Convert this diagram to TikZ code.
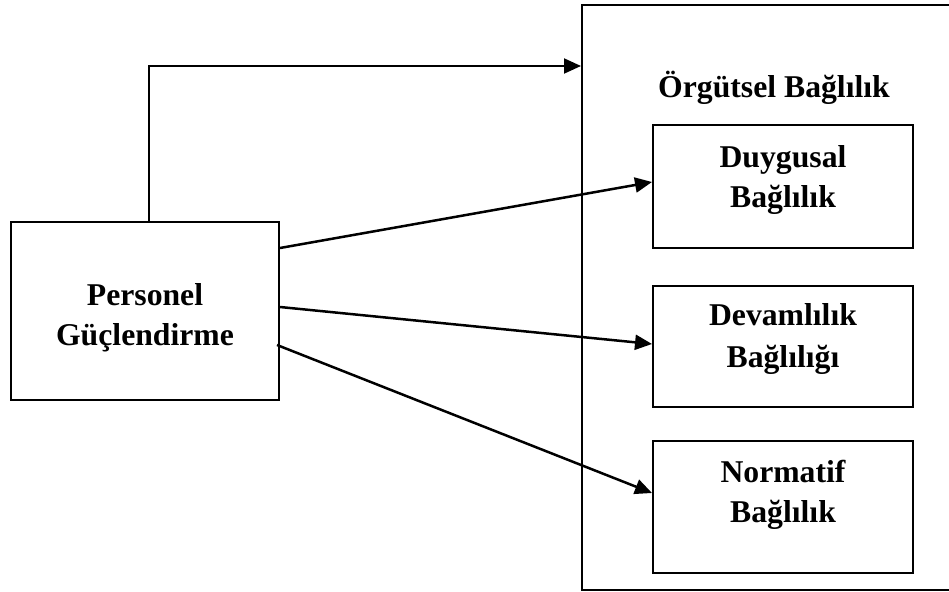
\documentclass[tikz,border=0pt]{standalone}
\usepackage{fontspec}
\setmainfont{Liberation Serif}
\usetikzlibrary{arrows.meta,calc}
\begin{document}
\begin{tikzpicture}[x=1pt,y=-1pt,
  box/.style={draw, line width=2pt, inner sep=0pt},
  lbl/.style={font=\bfseries\fontsize{31.7}{40}\selectfont, align=center, anchor=base, inner sep=0pt},
  conn/.style={line width=2.5pt, -{Triangle[length=17pt,width=15pt]}}]
\useasboundingbox (0,0) rectangle (949,591);
% outer frame, running past the right edge of the page
\begin{scope}
  \clip (0,0) rectangle (949,591);
  \node[box, minimum width=380pt, minimum height=585pt] (big) at (772,297.5) {};
\end{scope}
% boxes
\node[box, minimum width=268pt, minimum height=178pt] (pg) at (145,311) {};
\node[box, minimum width=260pt, minimum height=123pt] (duy) at (783,186.5) {};
\node[box, minimum width=260pt, minimum height=121pt] (dev) at (783,346.5) {};
\node[box, minimum width=260pt, minimum height=132pt] (nor) at (783,507) {};
% labels
\node[lbl] (pgt) at (145,345) {Personel\\Güçlendirme};
\node[lbl] (title) at (774,98) {Örgütsel Bağlılık};
\node[lbl] (duyt) at (783,207) {Duygusal\\Bağlılık};
\node[lbl, font=\bfseries\fontsize{31.7}{42}\selectfont] (devt) at (783,367) {Devamlılık\\Bağlılığı};
\node[lbl] (nort) at (783,522) {Normatif\\Bağlılık};
% connectors
\coordinate (tip) at (big.west |- 0,66);
\draw[conn, line width=2pt] ([xshift=4pt]pg.north) |- (tip);
\draw[conn] ([yshift=63pt]pg.east) -- ([yshift=4.5pt]duy.west);
\draw[conn] ([yshift=4pt]pg.east) -- ([yshift=2.5pt]dev.west);
\draw[conn] ([xshift=-3pt,yshift=-34pt]pg.east) -- ([yshift=14pt]nor.west);
\end{tikzpicture}
\end{document}
